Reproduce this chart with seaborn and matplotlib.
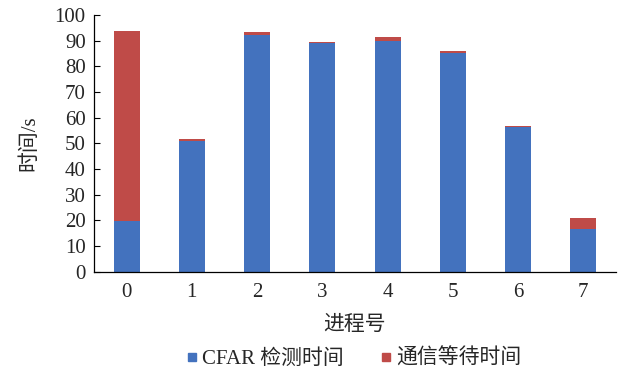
import matplotlib
matplotlib.use("Agg")
import matplotlib.pyplot as plt
from matplotlib.lines import Line2D
import seaborn as sns
import pandas as pd
import numpy as np

processes = ["0", "1", "2", "3", "4", "5", "6", "7"]
cfar_time = [19.7, 51.0, 92.3, 89.0, 89.9, 85.3, 56.3, 16.6]
wait_time = [74.2, 0.7, 1.2, 0.5, 1.4, 0.7, 0.6, 4.2]
yticks = [0, 10, 20, 30, 40, 50, 60, 70, 80, 90, 100]

blue = "#4372BE"
red = "#BF4B48"

sns.set_theme(style="white")
plt.rcParams["font.family"] = ["Liberation Serif", "Noto Sans CJK SC"]

df = pd.DataFrame({"proc": processes, "cfar": cfar_time, "wait": wait_time})
df["total"] = df["cfar"] + df["wait"]

fig = plt.figure(figsize=(6.24, 3.72), dpi=100)
ax = fig.add_axes([0.1506, 0.2696, 0.8364, 0.6901])

sns.barplot(data=df, x="proc", y="total", color=red, width=0.4, ax=ax,
            saturation=1, edgecolor="none", linewidth=0)
sns.barplot(data=df, x="proc", y="cfar", color=blue, width=0.4, ax=ax,
            saturation=1, edgecolor="none", linewidth=0)

ax.set_xlim(-0.5, 7.5)
ax.set_ylim(0, 100)
ax.set_yticks(yticks)
ax.set_yticklabels([str(v) for v in yticks], fontsize=15)
ax.set_xticks(range(len(processes)))
ax.set_xticklabels(processes, fontsize=15)
ax.set_xticks(np.arange(-0.5, 8.0, 1.0), minor=True)
ax.tick_params(axis="x", which="major", length=0, pad=8)
ax.tick_params(axis="x", which="minor", direction="in", length=4, width=0.8, color="black")
ax.tick_params(axis="y", which="major", direction="in", length=4, width=0.8, color="black", pad=6, left=True)

for s in ["top", "right"]:
    ax.spines[s].set_visible(False)
for s in ["left", "bottom"]:
    ax.spines[s].set_color("black")
    ax.spines[s].set_linewidth(0.9)

ax.set_xlabel("进程号", fontsize=15, labelpad=10)
ax.set_ylabel("时间/s", fontsize=15, labelpad=11)

handles = [
    Line2D([], [], marker="s", linestyle="none", color=blue, markersize=6),
    Line2D([], [], marker="s", linestyle="none", color=red, markersize=6),
]
fig.legend(handles, ["CFAR 检测时间", "通信等待时间"], loc="center",
           bbox_to_anchor=(0.565, 0.035), ncol=2, frameon=False, fontsize=15,
           handletextpad=0.1, columnspacing=1.6, handlelength=0.8)

fig.savefig("out.png", dpi=100)
